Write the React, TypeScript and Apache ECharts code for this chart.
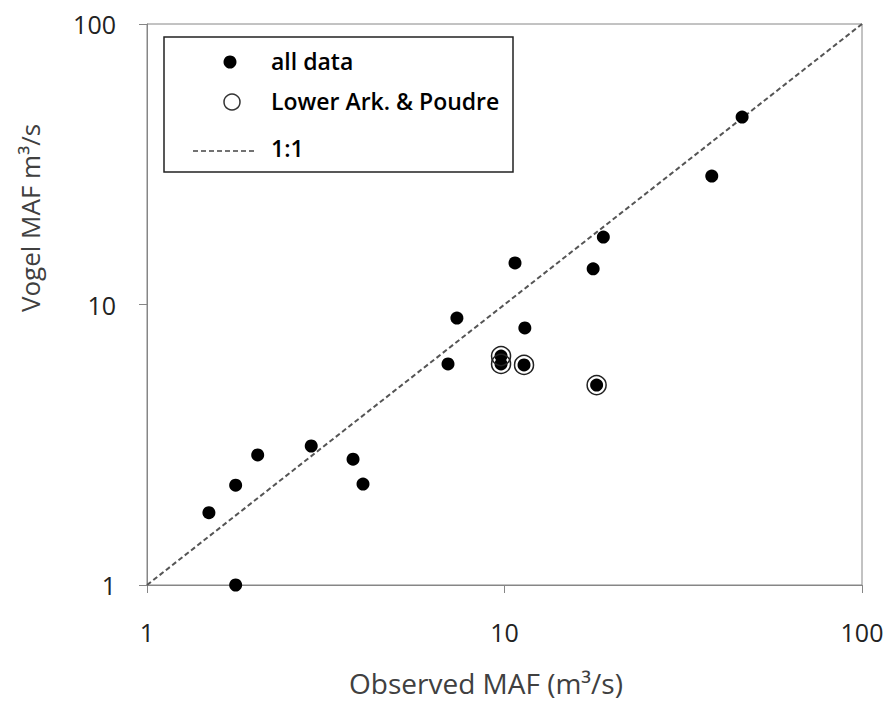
import React, { useEffect, useRef } from "react";
import * as echarts from "echarts";

const allDataX = [1.49, 1.77, 2.04, 1.77, 2.88, 3.77, 4.02, 6.95, 7.36, 9.78, 9.78, 11.34, 11.4, 10.7, 18.1, 17.7, 18.9, 38.0, 46.2];
const allDataY = [1.81, 2.27, 2.91, 1.0, 3.13, 2.81, 2.29, 6.14, 8.95, 6.55, 6.14, 6.09, 8.25, 14.06, 5.16, 13.4, 17.4, 28.7, 46.6];
const lowerArkX = [9.78, 9.78, 11.34, 18.1];
const lowerArkY = [6.55, 6.14, 6.09, 5.16];
const oneToOne = [1, 100];
const legendLabels = ["all data", "Lower Ark. & Poudre", "1:1"];
const xTitle = "Observed MAF (m³/s)";
const yTitle = "Vogel MAF m³/s";

const FONT = "'Open Sans'";

export default function App() {
  const ref = useRef<HTMLDivElement>(null);
  useEffect(() => {
    if (!ref.current) return;
    const chart = echarts.init(ref.current, null, { renderer: "svg" });
    const axisCommon = {
      type: "log" as const,
      logBase: 10,
      min: 1,
      max: 100,
      axisLine: { show: true, lineStyle: { color: "#868686", width: 1 } },
      axisTick: { show: true, inside: false, length: 8, lineStyle: { color: "#868686" } },
      minorTick: { show: false },
      splitLine: { show: false },
      axisLabel: { color: "#222", fontFamily: FONT, fontSize: 25 },
    };
    chart.setOption({
      animation: false,
      backgroundColor: "#fff",
      grid: {
        left: 147,
        right: 29,
        top: 24,
        bottom: 116,
        show: true,
        borderColor: "#868686",
        borderWidth: 1,
        backgroundColor: "transparent",
      },
      xAxis: { ...axisCommon, axisLabel: { ...axisCommon.axisLabel, margin: 34 } },
      yAxis: { ...axisCommon, axisLabel: { ...axisCommon.axisLabel, margin: 31 } },
      series: [
        {
          name: legendLabels[2],
          type: "line",
          data: oneToOne.map((v) => [v, v]),
          showSymbol: false,
          symbol: "none",
          lineStyle: { color: "#555", width: 2, type: [5, 3] },
          z: 1,
        },
        {
          name: legendLabels[0],
          type: "scatter",
          data: allDataX.map((x, i) => [x, allDataY[i]]),
          symbol: "circle",
          symbolSize: 13,
          itemStyle: { color: "#000", opacity: 1 },
          clip: false,
          z: 2,
        },
        {
          name: legendLabels[1],
          type: "scatter",
          data: lowerArkX.map((x, i) => [x, lowerArkY[i]]),
          symbol: "circle",
          symbolSize: 19,
          itemStyle: { color: "rgba(0,0,0,0)", borderColor: "#222", borderWidth: 1.5, opacity: 1 },
          clip: false,
          z: 3,
        },
      ],
      graphic: [
        {
          type: "rect",
          shape: { x: 164, y: 37, width: 349, height: 135 },
          style: { fill: "#fff", stroke: "#222", lineWidth: 1.5 },
          z: 10,
        },
        { type: "circle", shape: { cx: 230, cy: 62, r: 6.5 }, style: { fill: "#000" }, z: 11 },
        {
          type: "text",
          x: 271,
          y: 61,
          style: { text: legendLabels[0], fill: "#000", font: `600 23px ${FONT}`, verticalAlign: "middle" },
          z: 11,
        },
        {
          type: "circle",
          shape: { cx: 232, cy: 102, r: 8 },
          style: { fill: "none", stroke: "#333", lineWidth: 1.5 },
          z: 11,
        },
        {
          type: "text",
          x: 271,
          y: 101,
          style: { text: legendLabels[1], fill: "#000", font: `600 23px ${FONT}`, verticalAlign: "middle" },
          z: 11,
        },
        {
          type: "line",
          shape: { x1: 193, y1: 151, x2: 255, y2: 151 },
          style: { stroke: "#444", lineWidth: 1.5, lineDash: [5, 3] },
          z: 11,
        },
        {
          type: "text",
          x: 271,
          y: 148,
          style: { text: legendLabels[2], fill: "#000", font: `600 23px ${FONT}`, verticalAlign: "middle" },
          z: 11,
        },
        {
          type: "text",
          x: 486,
          y: 683,
          style: { text: xTitle, fill: "#404040", font: `28px ${FONT}`, align: "center", verticalAlign: "middle" },
        },
        {
          type: "text",
          x: 30,
          y: 218,
          rotation: Math.PI / 2,
          style: { text: yTitle, fill: "#404040", font: `26px ${FONT}`, align: "center", verticalAlign: "middle" },
        },
      ],
    });
    return () => chart.dispose();
  }, []);
  return <div ref={ref} style={{ width: 891, height: 701, position: "absolute", left: 0, top: 0 }} />;
}
